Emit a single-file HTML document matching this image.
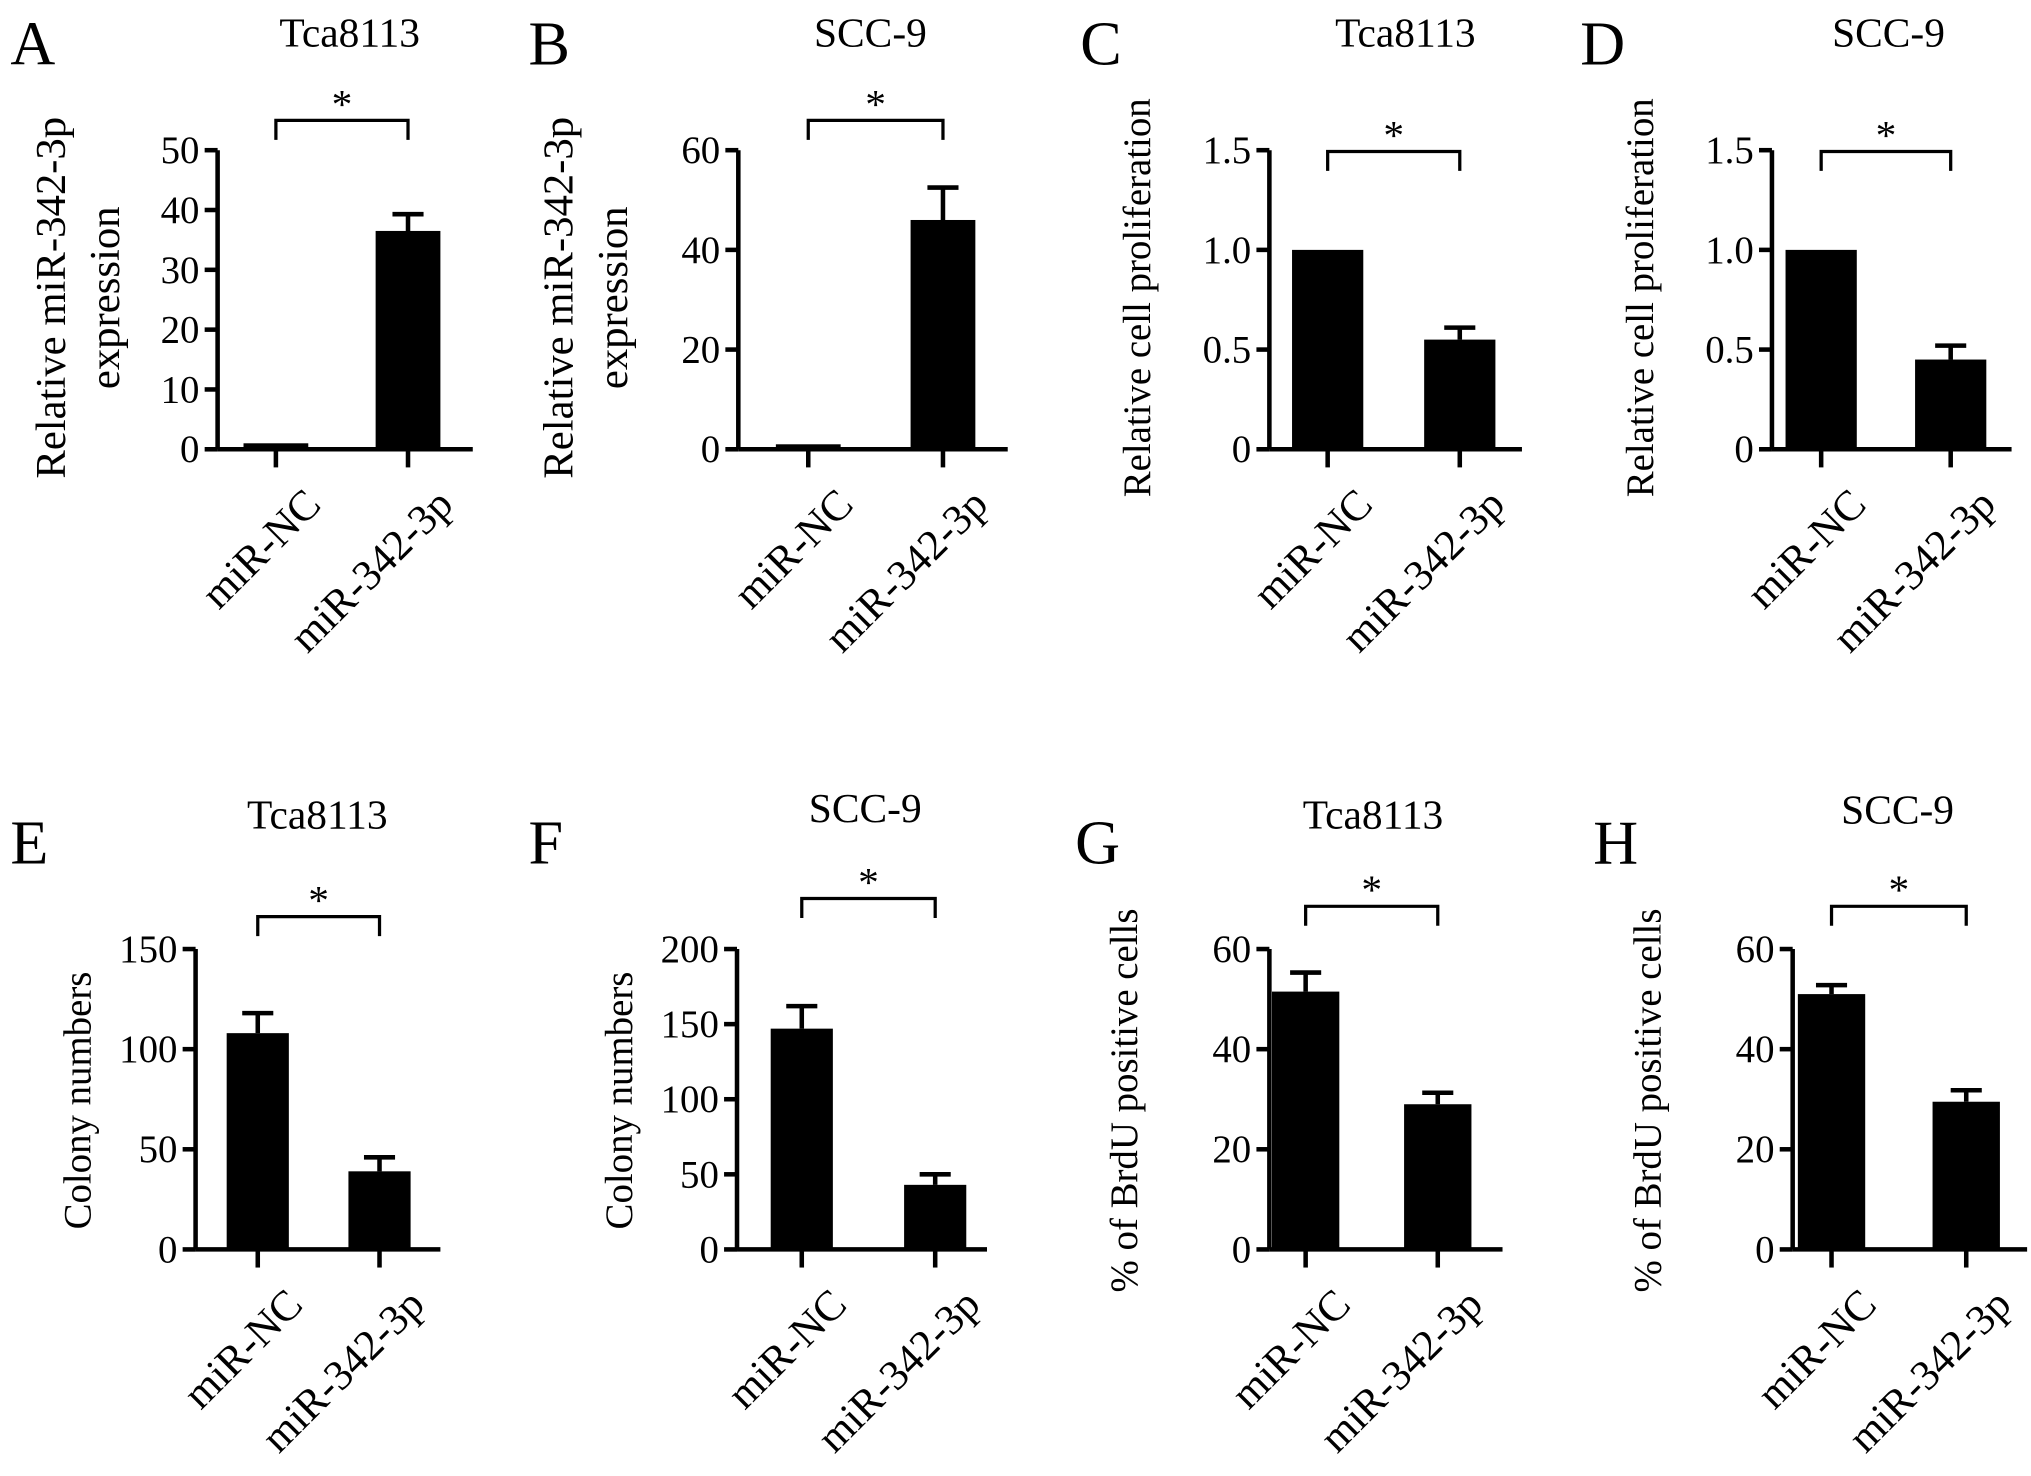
<!DOCTYPE html>
<html><head><meta charset="utf-8"><style>
html,body{margin:0;padding:0;background:#fff}
svg{display:block}
text{font-family:"Liberation Serif",serif;fill:#000}
</style></head><body>
<svg id="fig" width="2031" height="1476" viewBox="0 0 1568 1140" preserveAspectRatio="none" xmlns="http://www.w3.org/2000/svg"></svg>
<script>
const categories = ["miR-NC", "miR-342-3p"];
const panelLetters = ["A","B","C","D","E","F","G","H"];
const panelTitles = ["Tca8113","SCC-9","Tca8113","SCC-9","Tca8113","SCC-9","Tca8113","SCC-9"];
const meanA = [1, 36.5], errA = [0, 2.8];
const meanB = [1, 46], errB = [0, 6.5];
const meanC = [1.0, 0.55], errC = [0, 0.06];
const meanD = [1.0, 0.45], errD = [0, 0.07];
const meanE = [108, 39], errE = [10, 7];
const meanF = [147, 43], errF = [15, 7];
const meanG = [51.5, 29], errG = [3.8, 2.3];
const meanH = [51, 29.5], errH = [1.8, 2.3];
const ticksA = [0,10,20,30,40,50], ticksB = [0,20,40,60];
const ticksC = [0,0.5,1.0,1.5], ticksD = [0,0.5,1.0,1.5];
const ticksE = [0,50,100,150], ticksF = [0,50,100,150,200];
const ticksG = [0,20,40,60], ticksH = [0,20,40,60];
const tickLabelsC = ["0","0.5","1.0","1.5"];

const NS = "http://www.w3.org/2000/svg";
const svg = document.getElementById("fig");
function mk(tag, attrs, parent, txt){
  const e = document.createElementNS(NS, tag);
  for (const k in attrs) e.setAttribute(k, attrs[k]);
  if (txt !== undefined) e.textContent = txt;
  (parent || svg).appendChild(e);
  return e;
}
const panels = [
 {means:meanA, errs:errA, ticks:ticksA, labels:null, ax:168, top:116, bot:347, c:[213,315], right:365, lx:8, ly:50, tx:270, ty:36, ylab:["Relative miR-342-3p","expression"], ylx:[50,92], yly:230, br:93, bw:50},
 {means:meanB, errs:errB, ticks:ticksB, labels:null, ax:570, top:116, bot:347, c:[624,728], right:778, lx:408, ly:50, tx:672, ty:36, ylab:["Relative miR-342-3p","expression"], ylx:[442,484], yly:230, br:93, bw:50},
 {means:meanC, errs:errC, ticks:ticksC, labels:tickLabelsC, ax:980, top:116, bot:347, c:[1025,1127], right:1175, lx:834, ly:50, tx:1085, ty:36, ylab:["Relative cell proliferation"], ylx:[888], yly:230, br:117, bw:55},
 {means:meanD, errs:errD, ticks:ticksD, labels:tickLabelsC, ax:1368, top:116, bot:347, c:[1406,1506], right:1553, lx:1220, ly:50, tx:1458, ty:36, ylab:["Relative cell proliferation"], ylx:[1276], yly:230, br:117, bw:55},
 {means:meanE, errs:errE, ticks:ticksE, labels:null, ax:151, top:733, bot:965, c:[199,293], right:340, lx:8, ly:667, tx:245, ty:640, ylab:["Colony numbers"], ylx:[70], yly:850, br:708, bw:48},
 {means:meanF, errs:errF, ticks:ticksF, labels:null, ax:569, top:733, bot:965, c:[619,722], right:762, lx:408, ly:667, tx:668, ty:635, ylab:["Colony numbers"], ylx:[488], yly:850, br:694, bw:48},
 {means:meanG, errs:errG, ticks:ticksG, labels:null, ax:980, top:733, bot:965, c:[1008,1110], right:1160, lx:830, ly:667, tx:1060, ty:640, ylab:["% of BrdU positive cells"], ylx:[878], yly:850, br:700, bw:52},
 {means:meanH, errs:errH, ticks:ticksH, labels:null, ax:1384, top:733, bot:965, c:[1414,1518], right:1565, lx:1230, ly:667, tx:1465, ty:636, ylab:["% of BrdU positive cells"], ylx:[1282], yly:850, br:700, bw:52}
];
panels.forEach((p, i) => {
  const g = mk("g", {});
  
  
  const tmax = p.ticks[p.ticks.length-1];
  const y = v => p.bot - (v / tmax) * (p.bot - p.top);
  const sw = 3.5;
  const L = mk("text", {x:p.lx, y:p.ly, "font-size":48}, g, panelLetters[i]);
  
  
  const T = mk("text", {x:p.tx, y:p.ty, "font-size":32, "text-anchor":"middle"}, g, panelTitles[i]);
  
  
  p.means.forEach((m, k) => {
    const cx = p.c[k];
    const b = mk("rect", {x:cx - p.bw/2, y:y(m), width:p.bw, height:p.bot - y(m), fill:"#000"}, g);
    
    
    if (p.errs[k] > 0) {
      const e = mk("path", {d:`M${cx} ${y(m)} V${y(m+p.errs[k])} M${cx-12} ${y(m+p.errs[k])} H${cx+12}`, stroke:"#000", "stroke-width":sw, fill:"none"}, g);
      
      
    }
    const xt = mk("line", {x1:cx, y1:p.bot, x2:cx, y2:p.bot+14, stroke:"#000", "stroke-width":sw}, g);
    
    
    const lx = cx + 20, ly = p.bot + 28;
    const xl = mk("text", {x:lx, y:ly, "font-size":33, "text-anchor":"end", transform:`rotate(-45 ${lx} ${ly})`, dy:"0.7em"}, g, categories[k]);
    
    
  });
  const ya = mk("line", {x1:p.ax, y1:p.top, x2:p.ax, y2:p.bot, stroke:"#000", "stroke-width":sw}, g);
  
  
  const xa = mk("line", {x1:p.ax, y1:p.bot, x2:p.right, y2:p.bot, stroke:"#000", "stroke-width":sw}, g);
  
  
  p.ticks.forEach((t, k) => {
    const tl = mk("line", {x1:p.ax-10, y1:y(t), x2:p.ax, y2:y(t), stroke:"#000", "stroke-width":sw}, g);
    
    
    const lab = p.labels ? p.labels[k] : String(t);
    const tt = mk("text", {x:p.ax-14, y:y(t)+10, "font-size":30, "text-anchor":"end"}, g, lab);
    
    
  });
  p.ylab.forEach((s, k) => {
    const yl = mk("text", {x:p.ylx[k], y:p.yly, "font-size":p.ylab.length>1?33:30, "text-anchor":"middle", transform:`rotate(-90 ${p.ylx[k]} ${p.yly})`}, g, s);
    
    
  });
  const br = mk("path", {d:`M${p.c[0]} ${p.br+15} V${p.br} H${p.c[1]} V${p.br+15}`, stroke:"#000", "stroke-width":2.5, fill:"none"}, g);
  
  
  const st = mk("text", {x:(p.c[0]+p.c[1])/2, y:p.br-2, "font-size":32, "text-anchor":"middle"}, g, "*");
  
  
});
</script>
</body></html>
